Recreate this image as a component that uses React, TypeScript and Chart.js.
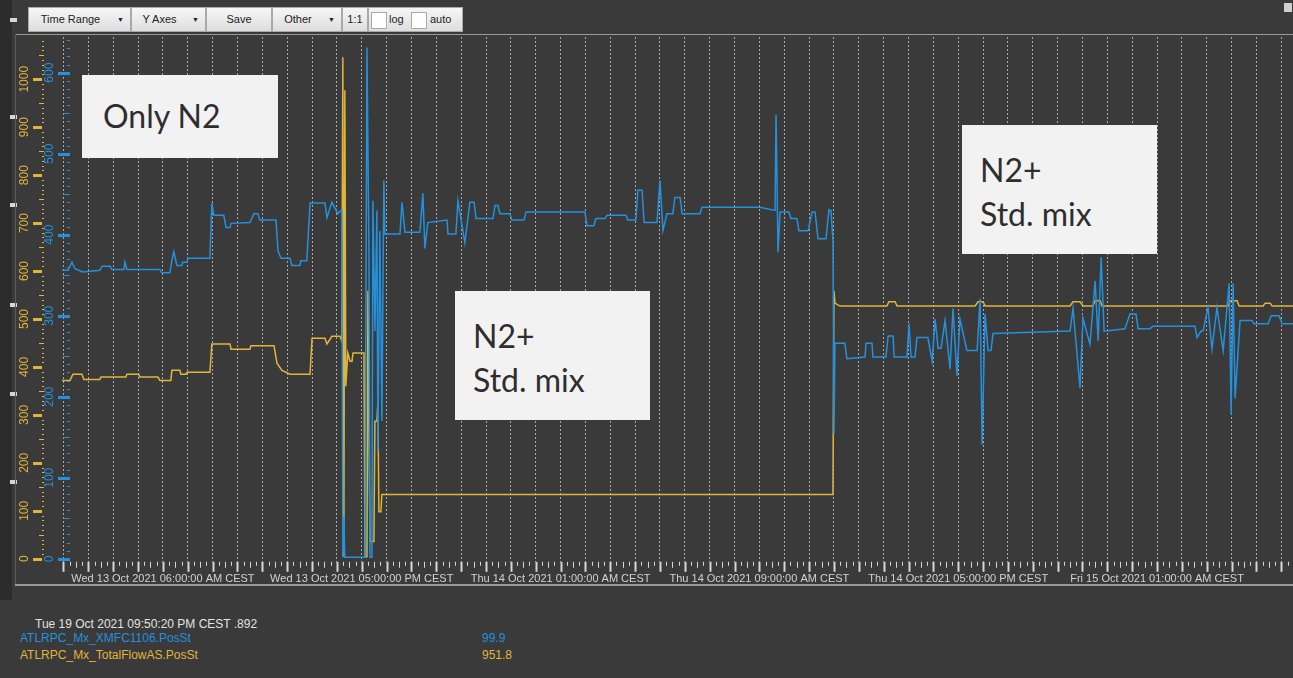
import React, { useEffect, useRef } from 'react';
import { Chart, registerables } from 'chart.js';

Chart.register(...registerables);

// ---------- data ----------
// x values are hours relative to the first labelled time tick
const xLabelHours = [0, 8, 16, 24, 32, 40];
const xLabelTexts = [
  'Wed 13 Oct 2021 06:00:00 AM CEST',
  'Wed 13 Oct 2021 05:00:00 PM CEST',
  'Thu 14 Oct 2021 01:00:00 AM CEST',
  'Thu 14 Oct 2021 09:00:00 AM CEST',
  'Thu 14 Oct 2021 05:00:00 PM CEST',
  'Fri 15 Oct 2021 01:00:00 AM CEST',
];
const yellowAxisTicks = [0, 100, 200, 300, 400, 500, 600, 700, 800, 900, 1000];
const blueAxisTicks = [0, 100, 200, 300, 400, 500, 600];

const blueName = 'ATLRPC_Mx_XMFC1106.PosSt';
const yellowName = 'ATLRPC_Mx_TotalFlowAS.PosSt';
const blueCurrent = '99.9';
const yellowCurrent = '951.8';
const cursorTime = 'Tue 19 Oct 2021 09:50:20 PM CEST .892';

const blueHours = [
  -4.06, -3.82, -3.66, -3.54, -3.22, -2.54, -2.45, -2.13, -2.05, -1.57, -1.53, -1.45, -0.12, -0.04, 0.28, 0.36,
  0.44, 0.56, 0.76, 0.8, 0.97, 1.01, 1.89, 1.97, 2.05, 2.45, 2.54, 2.7, 2.74, 3.5, 3.66, 3.82, 3.9, 4.55, 4.63,
  4.75, 5.11, 5.19, 5.51, 5.55, 5.79, 5.92, 6.52, 6.6, 6.8, 7.04, 7.16, 7.2, 7.24, 7.28, 7.32, 8.13, 8.21, 8.29,
  8.33, 8.41, 8.45, 8.53, 8.61, 8.65, 8.73, 8.81, 8.89, 8.93, 9.05, 9.54, 9.62, 9.74, 10.34, 10.46, 10.54, 10.66,
  11.43, 11.47, 11.79, 11.87, 12.15, 12.35, 12.52, 12.6, 13.28, 13.36, 13.48, 13.56, 13.96, 14.04, 14.53, 14.61,
  16.98, 17.06, 17.34, 17.42, 17.79, 17.87, 18.63, 18.71, 19.03, 19.11, 19.28, 19.36, 19.88, 20.0, 20.12, 20.28,
  20.52, 20.6, 20.81, 20.89, 21.61, 21.69, 24.02, 24.63, 24.67, 24.75, 24.83, 25.19, 25.27, 25.51, 25.59, 25.96,
  26.12, 26.24, 26.36, 26.68, 26.8, 26.88, 26.96, 27.0, 27.04, 27.44, 27.52, 28.25, 28.29, 28.53, 28.57, 29.09,
  29.18, 29.38, 29.42, 29.94, 30.02, 30.1, 30.26, 30.34, 30.78, 30.95, 31.07, 31.19, 31.31, 31.47, 31.67, 31.79,
  31.95, 32.07, 32.35, 32.76, 32.88, 32.96, 33.08, 33.2, 33.32, 33.4, 36.5, 36.62, 36.9, 37.02, 37.3, 37.51,
  37.63, 37.75, 37.87, 38.71, 38.91, 39.15, 39.24, 39.72, 39.84, 41.53, 41.61, 41.77, 41.85, 42.05, 42.21, 42.41,
  42.66, 42.9, 42.98, 43.06, 43.14, 43.34, 43.82, 43.9, 44.47, 44.59, 44.91, 45.03, 45.47,
];
const blueValues = [
  356, 356, 366, 358, 354, 356, 361, 361, 357, 357, 366, 357, 357, 353, 353, 368,
  379, 362, 362, 366, 366, 371, 371, 439, 424, 424, 409, 409, 414, 415, 426, 426, 418, 418, 380,
  371, 371, 362, 362, 368, 368, 439, 439, 421, 440, 426, 430, 430, 2, 52, 2, 2, 631, 380,
  2, 2, 442, 281, 430, 133, 405, 170, 467, 401, 401, 401, 440, 403, 403, 451, 383, 415,
  418, 401, 401, 442, 390, 440, 440, 420, 420, 436, 436, 426, 426, 418, 418, 428,
  428, 411, 411, 420, 420, 424, 424, 418, 418, 455, 455, 415, 415, 467, 405, 426,
  426, 446, 446, 426, 426, 434, 434, 430, 548, 378, 428, 428, 420, 420, 405, 405,
  428, 428, 395, 395, 431, 430, 393, 154, 266, 266, 247, 249, 266, 266, 249, 249,
  275, 275, 249, 249, 290, 249, 249, 273, 273, 244, 296, 260, 260, 294, 234, 309,
  226, 296, 257, 257, 321, 141, 302, 257, 257, 278, 281, 309, 211, 297, 265, 343,
  269, 372, 281, 284, 302, 302, 284, 284, 287, 287, 273, 281, 281, 310, 259, 310,
  257, 340, 178, 340, 198, 294, 294, 290, 290, 300, 300, 290, 290,
];

const yellowHours = [
  -4.06, -3.74, -3.62, -3.26, -3.18, -2.54, -2.49, -1.49, -1.45, -0.97, -0.93, -0.2, -0.12, 0.32, 0.36, 0.68,
  0.72, 0.93, 0.97, 1.89, 1.97, 2.7, 2.74, 3.5, 3.54, 4.47, 4.59, 4.79, 5.11, 5.92, 6.0, 6.52, 6.6, 6.8, 7.12,
  7.2, 7.24, 7.28, 7.32, 7.36, 7.44, 7.53, 7.61, 7.65, 8.09, 8.13, 8.21, 8.25, 8.33, 8.49, 8.53, 8.61, 8.65, 8.69,
  8.77, 8.81, 26.96, 27.0, 27.04, 27.24, 29.13, 29.21, 29.46, 29.54, 32.68, 32.8, 33.0, 33.08, 36.5, 36.62, 36.9,
  37.02, 37.42, 37.51, 37.71, 37.79, 42.86, 42.94, 43.22, 43.3, 44.27, 44.35, 44.55, 44.63, 45.47,
];
const yellowValues = [
  372, 372, 385, 385, 374, 374, 379, 379, 385, 385, 379, 379, 372, 372, 393, 393,
  385, 385, 389, 389, 448, 448, 437, 437, 444, 444, 408, 393, 385, 385, 460, 460, 448, 464, 464,
  454, 1046, 4, 977, 360, 429, 412, 412, 429, 429, 4, 4, 559, 36, 36, 287, 287, 328, 98,
  98, 134, 134, 559, 533, 527, 527, 536, 536, 527, 527, 536, 536, 527, 527, 536, 536,
  527, 527, 538, 538, 527, 527, 538, 538, 527, 527, 533, 533, 527, 527,
];

// ---------- styles ----------
const BG = '#3a3a3a';
const BLUE = '#2391dd';
const YELLOW = '#e1b43a';
const UI_FONT = '"Liberation Sans", Arial, sans-serif';

const axesPlugin = {
  id: 'customAxes',
  afterDraw(chart: any) {
    const ctx = chart.ctx as CanvasRenderingContext2D;
    const x = chart.scales.x;
    const yY = chart.scales.yY;
    const yB = chart.scales.yB;
    const area = chart.chartArea;
    ctx.save();

    // yellow axis ticks
    ctx.strokeStyle = YELLOW;
    for (let v = 0; v <= 1080; v += 10) {
      const py = Math.round(yY.getPixelForValue(v)) + 0.5;
      if (v % 100 === 0) {
        ctx.lineWidth = 3;
        ctx.beginPath(); ctx.moveTo(18, py); ctx.lineTo(27, py); ctx.stroke();
      } else {
        ctx.lineWidth = 1;
        const x0 = v % 50 === 0 ? 24 : 27;
        ctx.beginPath(); ctx.moveTo(x0, py); ctx.lineTo(29, py); ctx.stroke();
      }
    }
    // blue axis ticks
    ctx.strokeStyle = BLUE;
    for (let v = 0; v <= 640; v += 10) {
      const py = Math.round(yB.getPixelForValue(v)) + 0.5;
      if (v % 100 === 0) {
        ctx.lineWidth = 3;
        ctx.beginPath(); ctx.moveTo(43, py); ctx.lineTo(55, py); ctx.stroke();
      } else {
        ctx.lineWidth = 1;
        const x0 = v % 50 === 0 ? 48 : 52;
        ctx.beginPath(); ctx.moveTo(x0, py); ctx.lineTo(55, py); ctx.stroke();
      }
    }
    // rotated labels
    ctx.font = '12px ' + UI_FONT;
    ctx.textAlign = 'center';
    ctx.textBaseline = 'middle';
    ctx.fillStyle = YELLOW;
    yellowAxisTicks.forEach((v) => {
      const py = yY.getPixelForValue(v);
      ctx.save(); ctx.translate(10, py); ctx.rotate(-Math.PI / 2); ctx.fillText(String(v), 0, 0); ctx.restore();
    });
    ctx.fillStyle = BLUE;
    blueAxisTicks.forEach((v) => {
      const py = yB.getPixelForValue(v);
      ctx.save(); ctx.translate(35, py); ctx.rotate(-Math.PI / 2); ctx.fillText(String(v), 0, 0); ctx.restore();
    });

    // x tick marks (quarter hours)
    const bottom = area.bottom;
    const qStart = Math.ceil(x.min * 4);
    const qEnd = Math.floor(x.max * 4);
    ctx.strokeStyle = '#d6d6d6';
    for (let q = qStart; q <= qEnd; q++) {
      const px = Math.round(x.getPixelForValue(q / 4)) + 0.5;
      let len = 4;
      ctx.lineWidth = 1;
      if (q % 4 === 0) { len = 10; ctx.lineWidth = 2; }
      else if (q % 2 === 0) { len = 6; }
      ctx.beginPath(); ctx.moveTo(px, bottom); ctx.lineTo(px, bottom + len); ctx.stroke();
    }
    ctx.restore();
  },
};

function ChartCanvas() {
  const ref = useRef<HTMLCanvasElement | null>(null);
  useEffect(() => {
    if (!ref.current) return;
    const chart = new Chart(ref.current, {
      type: 'line',
      data: {
        datasets: [
          {
            label: blueName,
            data: blueHours.map((h, i) => ({ x: h, y: blueValues[i] })),
            borderColor: BLUE,
            borderWidth: 1.5,
            pointRadius: 0,
            tension: 0,
            yAxisID: 'yB',
          },
          {
            label: yellowName,
            data: yellowHours.map((h, i) => ({ x: h, y: yellowValues[i] })),
            borderColor: YELLOW,
            borderWidth: 1.5,
            pointRadius: 0,
            tension: 0,
            yAxisID: 'yY',
          },
        ],
      },
      options: {
        responsive: false,
        animation: false,
        layout: { padding: { left: 47, top: 2, right: 0, bottom: 0 } },
        plugins: { legend: { display: false }, tooltip: { enabled: false } },
        scales: {
          x: {
            type: 'linear',
            min: -4.06,
            max: 45.47,
            grid: {
              color: 'rgba(215,215,215,0.7)',
              lineWidth: 1,
              drawTicks: true,
              tickLength: 10,
              tickColor: 'rgba(0,0,0,0)',
            },
            border: { display: false, dash: [2, 2] },
            ticks: {
              stepSize: 1,
              autoSkip: false,
              includeBounds: false,
              maxRotation: 0,
              minRotation: 0,
              padding: 1,
              color: '#d2d2d2',
              font: { family: UI_FONT, size: 11 },
              callback: (v: any) => {
                const i = xLabelHours.indexOf(Number(v));
                return i >= 0 ? xLabelTexts[i] : '';
              },
            },
          },
          yY: { type: 'linear', display: false, min: -6.3, max: 1088 },
          yB: { type: 'linear', display: false, min: -3.7, max: 644 },
        },
      },
      plugins: [axesPlugin],
    } as any);
    return () => chart.destroy();
  }, []);
  return <canvas ref={ref} width={1278} height={552} style={{ display: 'block' }} />;
}

const btn: React.CSSProperties = {
  position: 'absolute',
  top: 7,
  height: 25,
  boxSizing: 'border-box',
  border: '1px solid #a9a9a9',
  background: 'linear-gradient(#f6f6f6, #dedede)',
  color: '#222',
  fontFamily: UI_FONT,
  fontSize: 11,
  lineHeight: '23px',
};

function Btn({ left, width, text, arrow }: { left: number; width: number; text: string; arrow?: boolean }) {
  return (
    <div style={{ ...btn, left, width }}>
      <span style={{ position: 'absolute', left: 0, right: arrow ? 18 : 0, textAlign: 'center' }}>{text}</span>
      {arrow && <span style={{ position: 'absolute', right: 6, fontSize: 7 }}>▼</span>}
    </div>
  );
}

const noteBox: React.CSSProperties = {
  position: 'absolute',
  background: '#f2f2f2',
  color: '#2e2e2e',
  fontFamily: 'Lato, "Noto Sans", sans-serif',
  fontSize: 32,
  lineHeight: '44px',
  boxSizing: 'border-box',
};

const legendText: React.CSSProperties = {
  position: 'absolute',
  fontFamily: UI_FONT,
  fontSize: 12,
  lineHeight: '14px',
};

export default function App() {
  return (
    <div style={{ position: 'fixed', left: 0, top: 0, width: 1293, height: 678, background: BG, overflow: 'hidden' }}>
      {/* left splitter strip */}
      <div style={{ position: 'absolute', left: 0, top: 0, width: 12, height: 600, background: '#2c2c2c' }} />
      {[18, 115, 203, 303, 392, 480].map((t) => (
        <div key={t} style={{ position: 'absolute', left: 10, top: t, width: 7, height: 4, background: '#d8d8d8' }} />
      ))}
      {/* toolbar */}
      <Btn left={28} width={103} text="Time Range" arrow />
      <Btn left={131} width={75} text="Y Axes" arrow />
      <Btn left={206} width={66} text="Save" />
      <Btn left={272} width={70} text="Other" arrow />
      <div style={{ ...btn, left: 342, width: 26, textAlign: 'center' }}>1:1</div>
      <div style={{ ...btn, left: 368, width: 95 }}>
        <div style={{ position: 'absolute', left: 2, top: 4, width: 14, height: 15, background: '#fff', border: '1px solid #aaa' }} />
        <span style={{ position: 'absolute', left: 20 }}>log</span>
        <div style={{ position: 'absolute', left: 42, top: 4, width: 14, height: 15, background: '#fff', border: '1px solid #aaa' }} />
        <span style={{ position: 'absolute', left: 61 }}>auto</span>
      </div>
      <div style={{ position: 'absolute', left: 1284, top: 3, width: 8, height: 9, background: '#cfcfcf' }} />
      {/* plot panel */}
      <div style={{ position: 'absolute', left: 15, top: 34, width: 1278, height: 1, background: '#9a9a9a' }} />
      <div style={{ position: 'absolute', left: 15, top: 34, width: 1, height: 551, background: '#5a5a5a' }} />
      <div style={{ position: 'absolute', left: 15, top: 35 }}>
        <ChartCanvas />
      </div>
      <div style={{ position: 'absolute', left: 15, top: 584, width: 1278, height: 2, background: '#9a9a9a' }} />
      {/* annotations */}
      <div style={{ ...noteBox, left: 82, top: 75, width: 196, height: 83, paddingLeft: 21, paddingTop: 19 }}>Only N2</div>
      <div style={{ ...noteBox, left: 455, top: 291, width: 195, height: 129, paddingLeft: 18, paddingTop: 23 }}>
        N2+<br />Std. mix
      </div>
      <div style={{ ...noteBox, left: 962, top: 125, width: 195, height: 129, paddingLeft: 18, paddingTop: 23 }}>
        N2+<br />Std. mix
      </div>
      {/* bottom legend */}
      <div style={{ ...legendText, left: 35, top: 617, color: '#e2e2e2' }}>{cursorTime}</div>
      <div style={{ ...legendText, left: 20, top: 631, color: BLUE }}>{blueName}</div>
      <div style={{ ...legendText, left: 482, top: 631, color: BLUE }}>{blueCurrent}</div>
      <div style={{ ...legendText, left: 20, top: 648, color: YELLOW }}>{yellowName}</div>
      <div style={{ ...legendText, left: 482, top: 648, color: YELLOW }}>{yellowCurrent}</div>
    </div>
  );
}
